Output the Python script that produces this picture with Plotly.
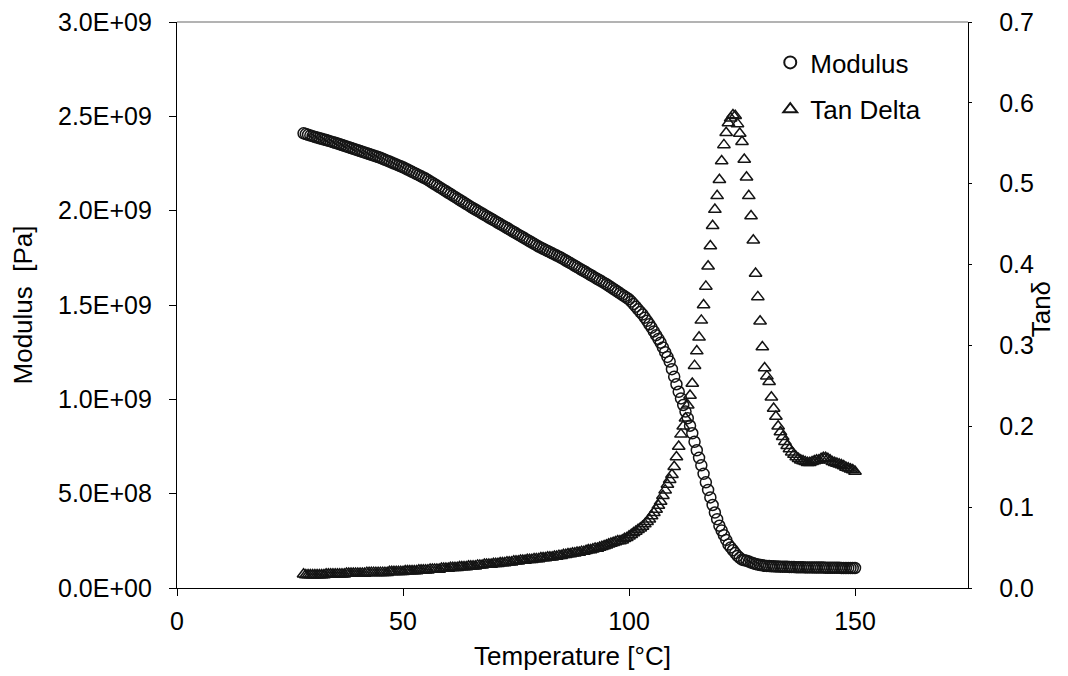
import numpy as np
import plotly.graph_objects as go

# Temperature grid (°C), 0.5 °C spacing
temperature = np.arange(28.0, 150.0001, 0.5)

# Storage modulus, in units of 1E+09 Pa
modulus_gpa = [
    2.410, 2.406, 2.402, 2.398, 2.395, 2.391, 2.388, 2.384, 2.381, 2.377,
    2.374, 2.370, 2.367, 2.363, 2.360, 2.356, 2.352, 2.348, 2.344, 2.340,
    2.336, 2.332, 2.328, 2.324, 2.320, 2.316, 2.312, 2.308, 2.304, 2.300,
    2.296, 2.292, 2.288, 2.284, 2.280, 2.275, 2.270, 2.265, 2.260, 2.255,
    2.250, 2.245, 2.240, 2.235, 2.230, 2.224, 2.218, 2.212, 2.206, 2.200,
    2.194, 2.188, 2.182, 2.176, 2.170, 2.163, 2.155, 2.148, 2.140, 2.133,
    2.125, 2.118, 2.110, 2.103, 2.095, 2.088, 2.080, 2.073, 2.065, 2.058,
    2.050, 2.043, 2.035, 2.028, 2.020, 2.013, 2.006, 1.999, 1.992, 1.985,
    1.978, 1.971, 1.964, 1.957, 1.950, 1.943, 1.936, 1.929, 1.922, 1.915,
    1.908, 1.901, 1.894, 1.887, 1.880, 1.873, 1.866, 1.859, 1.852, 1.845,
    1.838, 1.831, 1.824, 1.817, 1.810, 1.804, 1.798, 1.792, 1.786, 1.780,
    1.774, 1.768, 1.762, 1.756, 1.750, 1.743, 1.736, 1.729, 1.722, 1.715,
    1.708, 1.701, 1.694, 1.687, 1.680, 1.673, 1.666, 1.659, 1.652, 1.645,
    1.638, 1.631, 1.624, 1.617, 1.610, 1.602, 1.594, 1.586, 1.578, 1.570,
    1.562, 1.554, 1.546, 1.538, 1.530, 1.518, 1.505, 1.491, 1.477, 1.463,
    1.450, 1.433, 1.416, 1.398, 1.380, 1.360, 1.340, 1.320, 1.300, 1.275,
    1.250, 1.225, 1.200, 1.160, 1.120, 1.080, 1.040, 1.005, 0.970, 0.935,
    0.900, 0.860, 0.820, 0.775, 0.730, 0.690, 0.650, 0.605, 0.560, 0.520,
    0.480, 0.440, 0.400, 0.365, 0.330, 0.305, 0.280, 0.255, 0.230, 0.215,
    0.200, 0.185, 0.170, 0.160, 0.150, 0.147, 0.145, 0.140, 0.135, 0.131,
    0.127, 0.124, 0.122, 0.120, 0.118, 0.117, 0.116, 0.115, 0.115, 0.114,
    0.114, 0.113, 0.113, 0.112, 0.112, 0.111, 0.111, 0.111, 0.110, 0.110,
    0.110, 0.110, 0.109, 0.109, 0.109, 0.109, 0.108, 0.108, 0.108, 0.108,
    0.108, 0.107, 0.107, 0.107, 0.107, 0.107, 0.107, 0.107, 0.106, 0.106,
    0.106, 0.106, 0.106, 0.106, 0.106,
]

# Tan delta
tan_delta = [
    0.017, 0.016, 0.016, 0.016, 0.016, 0.016, 0.016, 0.016, 0.016, 0.016,
    0.017, 0.017, 0.017, 0.017, 0.017, 0.017, 0.017, 0.017, 0.017, 0.018,
    0.018, 0.018, 0.018, 0.018, 0.018, 0.018, 0.018, 0.018, 0.019, 0.019,
    0.019, 0.019, 0.019, 0.019, 0.019, 0.019, 0.019, 0.019, 0.020, 0.020,
    0.020, 0.020, 0.020, 0.020, 0.020, 0.021, 0.021, 0.021, 0.021, 0.021,
    0.021, 0.022, 0.022, 0.022, 0.022, 0.022, 0.023, 0.023, 0.023, 0.023,
    0.023, 0.024, 0.024, 0.024, 0.024, 0.025, 0.025, 0.025, 0.025, 0.026,
    0.026, 0.026, 0.026, 0.027, 0.027, 0.027, 0.027, 0.028, 0.028, 0.028,
    0.029, 0.029, 0.029, 0.029, 0.030, 0.030, 0.030, 0.031, 0.031, 0.031,
    0.032, 0.032, 0.032, 0.033, 0.033, 0.033, 0.034, 0.034, 0.034, 0.035,
    0.035, 0.035, 0.036, 0.036, 0.036, 0.037, 0.037, 0.037, 0.038, 0.038,
    0.038, 0.039, 0.039, 0.040, 0.040, 0.041, 0.041, 0.042, 0.042, 0.043,
    0.043, 0.044, 0.044, 0.045, 0.045, 0.046, 0.047, 0.047, 0.048, 0.049,
    0.049, 0.050, 0.051, 0.052, 0.053, 0.054, 0.055, 0.056, 0.057, 0.058,
    0.058, 0.059, 0.061, 0.062, 0.064, 0.066, 0.068, 0.070, 0.072, 0.074,
    0.076, 0.079, 0.082, 0.085, 0.089, 0.093, 0.097, 0.102, 0.107, 0.114,
    0.121, 0.128, 0.134, 0.140, 0.150, 0.162, 0.175, 0.190, 0.200, 0.210,
    0.226, 0.238, 0.253, 0.275, 0.293, 0.310, 0.331, 0.350, 0.373, 0.398,
    0.423, 0.448, 0.468, 0.485, 0.505, 0.528, 0.548, 0.563, 0.575, 0.581,
    0.585, 0.584, 0.574, 0.562, 0.552, 0.530, 0.508, 0.485, 0.460, 0.430,
    0.389, 0.360, 0.330, 0.298, 0.272, 0.262, 0.255, 0.236, 0.222, 0.212,
    0.200, 0.193, 0.187, 0.181, 0.176, 0.172, 0.168, 0.165, 0.162, 0.160,
    0.158, 0.157, 0.156, 0.155, 0.155, 0.156, 0.157, 0.158, 0.158, 0.160,
    0.161, 0.161, 0.160, 0.158, 0.156, 0.155, 0.154, 0.153, 0.152, 0.151,
    0.149, 0.148, 0.147, 0.146, 0.144,
]

modulus_pa = np.array(modulus_gpa) * 1e9

# Tick labels
x_ticks = [0, 50, 100, 150]
left_tickvals = [0, 5e8, 1e9, 1.5e9, 2e9, 2.5e9, 3e9]
left_ticktext = ["0.0E+00", "5.0E+08", "1.0E+09", "1.5E+09", "2.0E+09", "2.5E+09", "3.0E+09"]
right_tickvals = [0.0, 0.1, 0.2, 0.3, 0.4, 0.5, 0.6, 0.7]
right_ticktext = ["0.0", "0.1", "0.2", "0.3", "0.4", "0.5", "0.6", "0.7"]

FONT = "Liberation Sans, Arial, sans-serif"
INK = "#141414"

fig = go.Figure()
fig.add_trace(go.Scatter(
    x=temperature, y=modulus_pa, mode="markers", name="Modulus",
    legendgroup="a",
    marker=dict(symbol="circle-open", size=11, color=INK, line=dict(width=1.5, color=INK)),
    yaxis="y",
))
fig.add_trace(go.Scatter(
    x=temperature, y=tan_delta, mode="markers", name="Tan Delta",
    legendgroup="b",
    marker=dict(symbol="triangle-up-open", size=11, color=INK, line=dict(width=1.5, color=INK)),
    yaxis="y2",
))

axis_font = dict(family=FONT, size=25, color="#000")
title_font = dict(family=FONT, size=26, color="#000")

# The page body has an 8 px margin, so the figure is sized to fit the window
fig.update_layout(
    width=1060, height=668,
    margin=dict(l=169, r=100, t=14, b=88, autoexpand=False),
    paper_bgcolor="white", plot_bgcolor="white",
    font=dict(family=FONT, color="#000"),
    showlegend=True,
    legend=dict(
        x=0.75, y=0.97, xanchor="left", yanchor="top",
        font=dict(family=FONT, size=26, color="#000"),
        bgcolor="rgba(0,0,0,0)", tracegroupgap=10, traceorder="grouped",
        itemsizing="constant",
    ),
    xaxis=dict(
        range=[0, 175], tickvals=x_ticks, ticks="outside", ticklen=7, tickcolor="#000",
        showline=True, linecolor="#000", linewidth=1.3, showgrid=False, zeroline=False,
        tickfont=axis_font, ticklabelstandoff=4, ticklabeloverflow="allow", automargin=False,
        title=dict(text="Temperature [°C]", font=title_font, standoff=12),
    ),
    yaxis=dict(
        range=[0, 3e9], tickvals=left_tickvals, ticktext=left_ticktext,
        ticks="outside", ticklen=7, tickcolor="#000",
        showline=True, linecolor="#000", linewidth=1.3, showgrid=False, zeroline=False,
        tickfont=axis_font, ticklabelstandoff=12, ticklabeloverflow="allow", automargin=False,
        title=dict(text="Modulus  [Pa]", font=title_font, standoff=24),
    ),
    yaxis2=dict(
        range=[0, 0.7], tickvals=right_tickvals, ticktext=right_ticktext,
        overlaying="y", side="right",
        ticks="outside", ticklen=3, tickcolor="#000",
        showline=True, linecolor="#000", linewidth=1.3, showgrid=False, zeroline=False,
        tickfont=axis_font, ticklabelstandoff=22, ticklabeloverflow="allow", automargin=False,
    ),
    yaxis3=dict(
        range=[0, 3e9], tickvals=left_tickvals, overlaying="y", side="left",
        ticks="inside", ticklen=5, tickcolor="#000", showticklabels=False,
        showline=False, showgrid=False, zeroline=False, automargin=False,
    ),
    yaxis4=dict(
        range=[0, 0.7], tickvals=right_tickvals, overlaying="y", side="right",
        ticks="inside", ticklen=3, tickcolor="#000", showticklabels=False,
        showline=False, showgrid=False, zeroline=False, automargin=False,
    ),
)

# Right-hand axis title, placed close to the tick labels as in the original
fig.add_annotation(
    text="Tanδ", xref="paper", yref="paper", x=1.092, y=0.492,
    xanchor="center", yanchor="middle", textangle=-90, showarrow=False,
    font=title_font,
)

# Grey top border of the plot area
fig.add_shape(type="line", xref="x domain", yref="y domain", x0=0, x1=1, y0=1, y1=1,
              line=dict(color="#9a9a9a", width=1.5), layer="above")

fig.write_html("out.html")
